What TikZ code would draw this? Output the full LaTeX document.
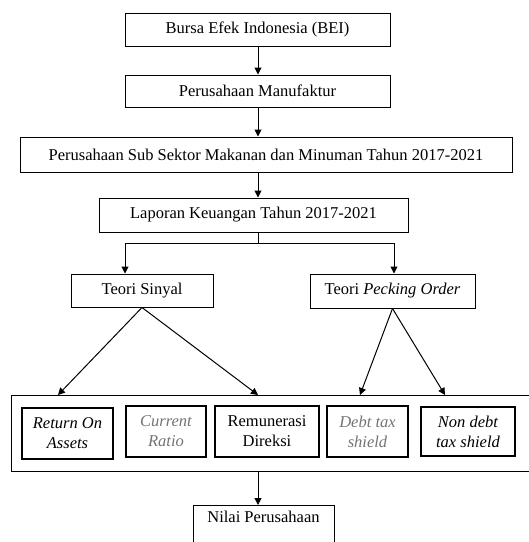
\documentclass[tikz,border=0pt]{standalone}
\usepackage{fontspec}
\setmainfont{Liberation Serif}
\usetikzlibrary{arrows.meta}

\begin{document}
\begin{tikzpicture}[x=1pt, y=-1pt,
    every node/.style = {font=\fontsize{16.5}{20}\selectfont},
    box/.style = {draw, line width=1pt, align=center, inner sep=0pt},
    inbox/.style = {box, line width=1.2pt, font=\fontsize{16.5}{20}\selectfont\itshape},
    arr/.style = {line width=1pt, -{Triangle[length=7pt, width=7pt]}}]
        \path[use as bounding box, clip] (0, 0) rectangle (529, 542);

        % alur atas
        \node[box, minimum width = 265, minimum height = 33] (bei) at (257.5, 29.5) {Bursa Efek Indonesia (BEI)};
        \node[box, minimum width = 265, minimum height = 32] (manuf) at (257.5, 91) {Perusahaan Manufaktur};
        \node[box, minimum width = 492, minimum height = 35] (sektor) at (266, 154.5) {Perusahaan Sub Sektor Makanan dan Minuman Tahun 2017-2021};
        \node[box, minimum width = 309, minimum height = 34] (lapkeu) at (253.5, 215) {Laporan Keuangan Tahun 2017-2021};
        \node[box, minimum width = 142, minimum height = 33] (sinyal) at (142, 290.5) {Teori Sinyal};
        \node[box, minimum width = 165, minimum height = 34] (pecking) at (392.5, 291) {Teori \textit{Pecking Order}};

        % variabel
        \node[draw, line width = 0.8pt, minimum width = 524, minimum height = 76, inner sep = 0pt] (var) at (273, 433) {};
        \node[inbox, minimum width = 91, minimum height = 51] (roa) at (67.5, 433.5) {Return On\\Assets};
        \node[inbox, minimum width = 80, minimum height = 51, text = black!55] (cr) at (166, 431.5) {Current\\Ratio};
        \node[box, line width = 1.2pt, minimum width = 104, minimum height = 51] (remun) at (267, 431.5) {Remunerasi\\Direksi};
        \node[inbox, minimum width = 81, minimum height = 51, text = black!55] (dts) at (367.5, 431.5) {Debt tax\\shield};
        \node[inbox, minimum width = 94, minimum height = 49] (ndts) at (468, 431.5) {Non debt\\tax shield};

        \node[box, anchor = north, minimum width = 141, minimum height = 60, inner ysep = 6pt] (nilai) at (263.5, 505) {Nilai Perusahaan\\[22pt]};

        \coordinate (spine) at (258, 0);
        \coordinate (split) at (258, 243);
        \coordinate (kiri) at (125, 243);
        \coordinate (kanan) at (394, 243);
        \coordinate (ta) at (58, 395);
        \coordinate (tb) at (258, 395);
        \coordinate (tc) at (360, 395);
        \coordinate (td) at (445, 395);

        \draw[arr] (bei.south -| spine) -- (manuf.north -| spine);
        \draw[arr] (manuf.south -| spine) -- (sektor.north -| spine);
        \draw[arr] (sektor.south -| spine) -- (lapkeu.north -| spine);
        \draw[line width = 0.8pt] (lapkeu.south -| spine) -- (split);
        \draw[line width = 0.8pt] (kiri) -- (kanan);
        \draw[arr] (kiri) -- (kiri |- sinyal.north);
        \draw[arr] (kanan) -- (kanan |- pecking.north);

        \draw[arr] (sinyal.south) -- (ta);
        \draw[arr] (sinyal.south) -- (tb);
        \draw[arr] (pecking.south) -- (tc);
        \draw[arr] (pecking.south) -- (td);

        \draw[arr] (var.south -| spine) -- (nilai.north -| spine);
\end{tikzpicture}
\end{document}
